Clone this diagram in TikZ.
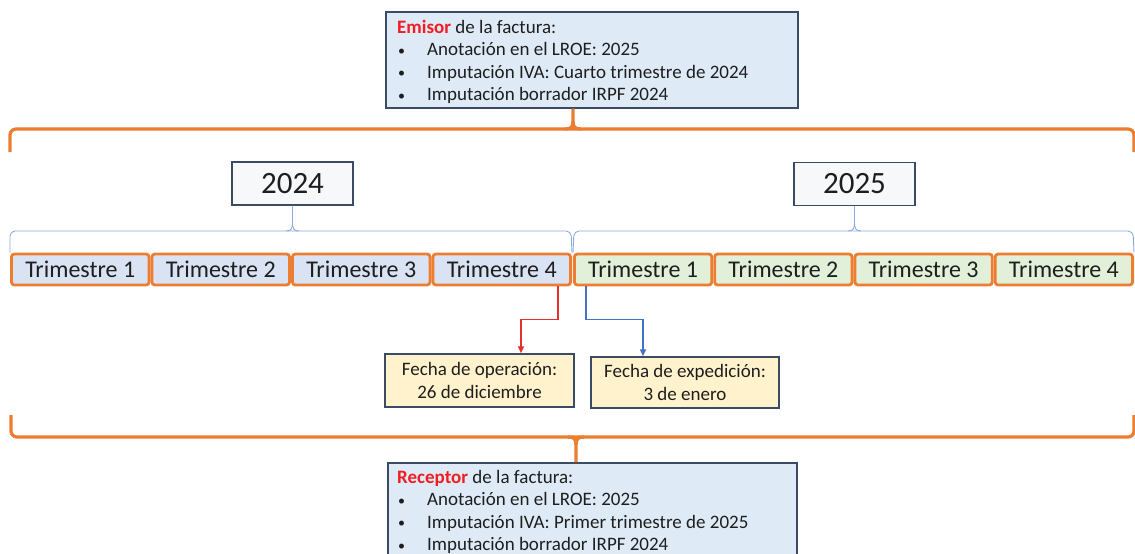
\documentclass[tikz,border=0pt]{standalone}
\usepackage{fontspec}
\setmainfont{Carlito}
\usetikzlibrary{arrows.meta}
\definecolor{orng}{HTML}{ED7D31}
\definecolor{qfill24}{HTML}{DAE3F3}
\definecolor{qfill25}{HTML}{E2F0D9}
\definecolor{infofill}{HTML}{DEEBF7}
\definecolor{boxline}{HTML}{3B4B63}
\definecolor{yearfill}{HTML}{F6F8FA}
\definecolor{datefill}{HTML}{FFF2CC}
\definecolor{thinbrace}{HTML}{8FAADC}
\definecolor{arrred}{HTML}{E8302A}
\definecolor{arrblue}{HTML}{4472C4}
\definecolor{txt}{HTML}{1E1E1E}
\definecolor{hl}{HTML}{F01E23}
\newcommand{\smbullet}{\makebox[29pt][l]{\raisebox{0.5pt}{\fontsize{14}{14}\selectfont•}}}
\begin{document}
\begin{tikzpicture}[x=1pt,y=-1pt,
  every node/.style={text=txt},
  infobox/.style={draw=boxline, fill=infofill, line width=1.5pt, anchor=north west, inner sep=0pt},
  infoline/.style={anchor=base west, inner sep=0pt, font=\fontsize{19}{22.5}\selectfont},
  quarter/.style={draw=orng, line width=2.8pt, rounded corners=3pt, minimum height=31pt, inner sep=0pt, font=\fontsize{24}{26}\selectfont},
  q24/.style={quarter, fill=qfill24, minimum width=137.7pt},
  q25/.style={quarter, fill=qfill25, minimum width=137.4pt},
  yearbox/.style={draw=boxline, fill=yearfill, line width=1.3pt, minimum width=121pt, minimum height=43pt, inner sep=0pt, font=\fontsize{31}{33}\selectfont},
  datebox/.style={draw=boxline, fill=datefill, line width=1.5pt, inner sep=0pt, align=center, font=\fontsize{19}{23}\selectfont},
  obrace/.style={draw=orng, line width=3.2pt, rounded corners=6pt},
  otip/.style={draw=orng, line width=3.2pt},
  tbrace/.style={draw=thinbrace, line width=0.9pt, rounded corners=5pt},
  ttip/.style={draw=thinbrace, line width=0.9pt},
  redarrow/.style={draw=arrred, line width=1.6pt, -{Triangle[length=7pt,width=6pt]}},
  bluearrow/.style={draw=arrblue, line width=1.6pt, -{Triangle[length=7pt,width=6pt]}}
]
\useasboundingbox (0,0) rectangle (1135,554);
\clip (0,0) rectangle (1135,554);

% info boxes
\node[infobox, minimum width=412pt, minimum height=96pt] (emisor) at (385,11) {};
\node[infoline] (e1) at (397,33) {{\color{hl}\bfseries Emisor} de la factura:};
\node[infoline] (e2) at (398,55.5) {\smbullet Anotación en el LROE: 2025};
\node[infoline] (e3) at (398,78) {\smbullet Imputación IVA: Cuarto trimestre de 2024};
\node[infoline] (e4) at (398,100.5) {\smbullet Imputación borrador IRPF 2024};

\node[infobox, minimum width=409pt, minimum height=120pt] (receptor) at (387,462) {};
\node[infoline] (r1) at (397,483) {{\color{hl}\bfseries Receptor} de la factura:};
\node[infoline] (r2) at (398,505.5) {\smbullet Anotación en el LROE: 2025};
\node[infoline] (r3) at (398,528) {\smbullet Imputación IVA: Primer trimestre de 2025};
\node[infoline] (r4) at (398,550.5) {\smbullet Imputación borrador IRPF 2024};

% year boxes
\node[yearbox] (y24) at (292.5,183.5) {2024};
\node[yearbox] (y25) at (854.5,184) {2025};

% quarters
\node[q24] (qa) at (80.25,269.5) {Trimestre 1};
\node[q24] (qb) at (220.75,269.5) {Trimestre 2};
\node[q24] (qc) at (361.25,269.5) {Trimestre 3};
\node[q24] (qd) at (501.75,269.5) {Trimestre 4};
\node[q25] (pa) at (643.1,269.5) {Trimestre 1};
\node[q25] (pb) at (783.4,269.5) {Trimestre 2};
\node[q25] (pc) at (923.6,269.5) {Trimestre 3};
\node[q25] (pd) at (1063.9,269.5) {Trimestre 4};

% date boxes
\node[datebox, minimum width=189pt, minimum height=53pt] (op) at (479.5,380.5) {Fecha de operación:\\26 de diciembre};
\node[datebox, minimum width=188pt, minimum height=51pt] (ex) at (685,382.5) {Fecha de expedición:\\3 de enero};

% orange braces
\draw[obrace] (10,152) -- (10,129) -- (1134,129) -- (1134,152);
\draw[otip] (565,129) .. controls (571,129) and (573,127) .. (573,121) -- (emisor.south -| 573,0);
\draw[otip] (581,129) .. controls (575,129) and (573,127) .. (573,121);
\draw[obrace] (11,415) -- (11,437) -- (1134,437) -- (1134,415);
\draw[otip] (568,437) .. controls (574,437) and (576,439) .. (576,445) -- (receptor.north -| 576,0);
\draw[otip] (584,437) .. controls (578,437) and (576,439) .. (576,445);

% thin braces
\draw[tbrace] (qa.north west) -- (10,231) -- (571,231) -- (qd.north east);
\draw[ttip] (286,231) .. controls (291,231) and (292.5,229) .. (292.5,222) -- (y24.south);
\draw[ttip] (299,231) .. controls (294,231) and (292.5,229) .. (292.5,222);
\draw[tbrace] (pa.north west) -- (574,231) -- (1133,231) -- (pd.north east);
\draw[ttip] (848,231) .. controls (853,231) and (854.5,229) .. (854.5,222) -- (y25.south);
\draw[ttip] (861,231) .. controls (856,231) and (854.5,229) .. (854.5,222);

% arrows
\draw[redarrow] ([xshift=-14pt]qd.south east) -- ++(0,33) -| ([xshift=41.5pt]op.north);
\draw[bluearrow] ([xshift=13pt]pa.south west) -- ++(0,33) -| ([xshift=-42pt]ex.north);
\end{tikzpicture}
\end{document}
